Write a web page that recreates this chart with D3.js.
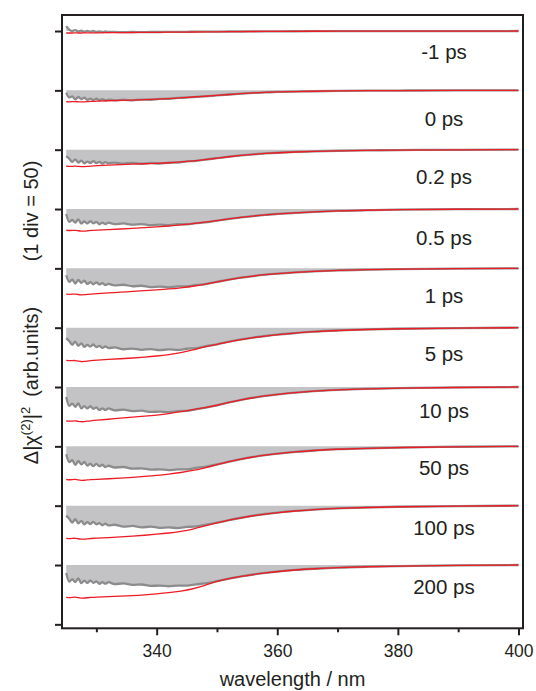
<!DOCTYPE html>
<html>
<head>
<meta charset="utf-8">
<script src="https://cdnjs.cloudflare.com/ajax/libs/d3/7.8.5/d3.min.js"></script>
<style>
  body { margin: 0; background: #fff; }
  svg { display: block; font-family: "Liberation Sans", Arial, Helvetica, sans-serif; }
</style>
</head>
<body>
<svg id="chart" width="536" height="691"></svg>
<script>
// wavelength grids (nm): measured spectra and fitted curves
const wlData = [325, 325.5, 326, 326.5, 327, 327.5, 328, 328.5, 329, 329.5, 330, 330.5, 331, 331.5, 332,
    333, 334.5, 336, 337.5, 339, 340.5, 342, 343.5, 345, 346.5, 348,
    350, 352, 354, 356, 358, 360, 363, 366, 370, 375, 380, 390, 400];
const wlFit = [325, 325.5, 326, 326.5, 327, 327.5, 328, 328.5, 329, 330, 332, 334, 336, 338, 340, 342, 344,
    346, 348, 350, 352, 354, 356, 358, 360, 363, 366, 370, 375, 380, 390, 400];

// delay times (labels)
const delayLabels = ["-1 ps", "0 ps", "0.2 ps", "0.5 ps", "1 ps", "5 ps", "10 ps", "50 ps", "100 ps", "200 ps"];

// measured Δ|χ(2)|² (arb. units), gray noisy traces
const dataM1 = [5, 1.5, 0, 1, -0.5, 0.5, -0.8, 0.2, -0.6, 0, -0.9, -0.3, -1, -0.5, -1, -0.9, -1.2, -1, -1.2, -1, -1, -0.9, -0.9, -0.8, -0.7, -0.7, -0.6, -0.5, -0.5, -0.4, -0.35, -0.3, -0.25, -0.2, -0.15, -0.1, -0.1, -0.05, 0];
const data0 = [-2.5, -7.2, -6.1, -9, -6.7, -8.8, -7.4, -9.6, -8.4, -9.8, -8.5, -9.9, -8.9, -10.2, -9.3, -10.2, -9.5, -10.1, -9.3, -9.5, -8.6, -8.5, -7.6, -7.4, -6.5, -6.1, -5.1, -4.2, -3.4, -2.6, -2.1, -1.6, -1.2, -0.9, -0.6, -0.35, -0.2, -0.05, 0];
const data02 = [-6.6, -9.2, -12.4, -9.7, -13.1, -11, -13.8, -12, -13.4, -11.6, -13.6, -12.4, -14, -12.6, -13.8, -13, -14.1, -13.3, -14.2, -13.4, -14, -13.2, -13.1, -11.8, -11.3, -10, -8.6, -7.1, -5.8, -4.7, -3.8, -3.1, -2.3, -1.7, -1.1, -0.7, -0.4, -0.1, 0];
const data05 = [-5.1, -13.1, -11, -13.7, -10.4, -14.8, -12.6, -14.6, -12.3, -14.5, -13.1, -15.4, -13.8, -15.2, -13.8, -15.3, -14.6, -15.8, -15.2, -16.3, -15.8, -16.3, -15.4, -15.4, -14.3, -13.5, -11.7, -10, -8.5, -7.1, -5.9, -5, -3.9, -2.9, -1.9, -1.2, -0.7, -0.2, 0];
const data1 = [-7, -13.6, -11.3, -15.4, -11.7, -14.7, -12.5, -15.8, -14, -16.1, -14.1, -16.3, -14.9, -16.9, -15.7, -17.2, -16.6, -18.1, -17.6, -18.9, -18.4, -19.2, -18.3, -18.3, -16.8, -15.9, -13.6, -11.4, -9.4, -7.8, -6.4, -5.3, -4, -3, -2, -1.3, -0.8, -0.3, 0];
const data5 = [-10.5, -13.5, -17.3, -14, -18.3, -15.8, -19.4, -17.3, -19.2, -17, -19.7, -18.4, -20.5, -18.9, -20.6, -20, -21.8, -21.1, -22.4, -21.6, -22.6, -22, -22.5, -21.3, -20.6, -18.9, -16.8, -14.2, -11.9, -10, -8.4, -7, -5.4, -4, -2.8, -1.8, -1.1, -0.4, 0];
const data10 = [-10, -19, -16.8, -20, -16.6, -21.6, -19.3, -21.7, -19.4, -22, -20.6, -23.2, -21.7, -23.2, -21.7, -23.6, -22.9, -24.4, -23.9, -25.2, -24.8, -25.3, -24.4, -24.1, -22.5, -21.1, -18.5, -15.6, -13, -10.8, -9, -7.4, -5.6, -4.2, -2.9, -1.9, -1.2, -0.4, 0];
const data50 = [-8, -16, -14, -18.8, -14.8, -18.2, -15.8, -19.5, -17.6, -19.9, -17.7, -20.1, -18.6, -20.9, -19.6, -21.4, -20.9, -22.6, -22.2, -23.6, -23.2, -24.1, -23.3, -23.3, -21.8, -20.8, -18.2, -15.5, -12.9, -10.7, -8.9, -7.4, -5.6, -4.2, -2.9, -1.9, -1.2, -0.4, 0];
const data100 = [-10, -13.2, -17, -13.6, -17.9, -15.3, -18.9, -16.7, -18.5, -16.3, -19, -17.7, -19.8, -18.2, -19.9, -19.3, -21.2, -20.5, -21.9, -21.2, -22.4, -22, -22.6, -21.5, -21, -19.4, -17.2, -14.6, -12.2, -10.1, -8.4, -7, -5.3, -4, -2.7, -1.8, -1.1, -0.4, 0];
const data200 = [-8, -16.8, -14.3, -17.2, -13.5, -18.3, -15.8, -18.1, -15.6, -18, -16.5, -19, -17.4, -18.9, -17.4, -19.3, -18.6, -20.1, -19.7, -21.1, -20.8, -21.5, -20.8, -20.8, -19.6, -18.6, -16.3, -13.8, -11.5, -9.6, -8, -6.6, -5, -3.8, -2.6, -1.7, -1.1, -0.4, 0];

// fitted curves (red)
const fitM1 = [-2, -2, -2, -1.9, -2, -2, -1.9, -1.9, -1.8, -1.8, -1.7, -1.6, -1.5, -1.4, -1.3, -1.2, -1.1, -1, -0.9, -0.8, -0.7, -0.6, -0.5, -0.45, -0.4, -0.3, -0.25, -0.2, -0.15, -0.1, -0.05, 0];
const fit0 = [-11.5, -11.7, -11.5, -11.3, -11.6, -11.8, -11.6, -11.4, -11.2, -10.9, -10.5, -10.2, -9.9, -9.5, -8.9, -8.3, -7.6, -6.7, -6, -5.1, -4.2, -3.4, -2.6, -2.1, -1.6, -1.2, -0.9, -0.6, -0.35, -0.2, -0.05, 0];
const fit02 = [-16.7, -17, -16.8, -16.6, -17, -17.2, -17.1, -16.9, -16.6, -16.2, -15.7, -15.2, -14.7, -14.2, -13.8, -13.3, -12.4, -11.4, -10.1, -8.6, -7.1, -5.8, -4.7, -3.8, -3.1, -2.3, -1.7, -1.1, -0.7, -0.4, -0.1, 0];
const fit05 = [-21.4, -21.8, -21.6, -21.4, -22, -22.4, -22.3, -22, -21.7, -21.3, -20.8, -20.2, -19.6, -18.9, -18.1, -17.2, -16.2, -14.8, -13.4, -11.7, -10, -8.5, -7.1, -5.9, -5, -3.9, -2.9, -1.9, -1.2, -0.7, -0.2, 0];
const fit1 = [-26, -26.3, -26.1, -25.9, -26.5, -26.8, -26.7, -26.4, -26.1, -25.6, -24.9, -24.1, -23.4, -22.6, -21.8, -20.9, -19.7, -18.2, -16.2, -13.6, -11.4, -9.4, -7.8, -6.4, -5.3, -4, -3, -2, -1.3, -0.8, -0.3, 0];
const fit5 = [-33, -33.4, -33.2, -33.1, -33.8, -34.3, -34.2, -33.8, -33.4, -32.9, -32.1, -31.4, -30.7, -29.8, -28.7, -27.3, -25.3, -22.5, -19.3, -16.8, -14.2, -11.9, -10, -8.4, -7, -5.4, -4, -2.8, -1.8, -1.1, -0.4, 0];
const fit10 = [-34.3, -34.7, -34.4, -34.1, -34.8, -35.2, -35, -34.6, -34.2, -33.6, -32.6, -31.5, -30.5, -29.5, -28.4, -27, -25, -22.8, -21, -18.5, -15.6, -13, -10.8, -9, -7.4, -5.6, -4.2, -2.9, -1.9, -1.2, -0.4, 0];
const fit50 = [-33.5, -33.9, -33.6, -33.3, -34, -34.4, -34.3, -34, -33.7, -33.4, -32.8, -32.1, -31.3, -30.4, -29.4, -28.1, -26.5, -24.5, -21.8, -18.5, -15.5, -12.9, -10.7, -8.9, -7.4, -5.6, -4.2, -2.9, -1.9, -1.2, -0.4, 0];
const fit100 = [-33, -33.4, -33.1, -32.8, -33.5, -33.9, -33.8, -33.5, -33.2, -32.9, -32.3, -31.6, -30.8, -29.9, -28.9, -27.7, -26, -23.8, -20.5, -17.2, -14.6, -12.2, -10.1, -8.4, -7, -5.3, -4, -2.7, -1.8, -1.1, -0.4, 0];
const fit200 = [-32.6, -33, -32.7, -32.4, -33.1, -33.5, -33.4, -33.1, -32.8, -32.5, -32, -31.5, -31, -30.2, -29.2, -28, -26.4, -24.2, -20.8, -16.3, -13.8, -11.5, -9.6, -8, -6.6, -5, -3.8, -2.6, -1.7, -1.1, -0.4, 0];

const measured = [dataM1, data0, data02, data05, data1, data5, data10, data50, data100, data200];
const fitted = [fitM1, fit0, fit02, fit05, fit1, fit5, fit10, fit50, fit100, fit200];

// axis ticks
const xMajorTicks = [340, 360, 380, 400];
const xMinorTicks = [330, 350, 370, 390];

const DIV = 60; //一格的偏移量
const INK = "#231f20";

let svg = d3.select("#chart");

let x = d3.scaleLinear().domain([324.3, 400.75]).range([62, 523]);
let y = d3.scaleLinear().domain([-4, 616.2]).range([628.3, 15]);

// 每条谱线的基线偏移，-1 ps 在最上面
let traces = delayLabels.map((label, i) => ({
    label: label,
    base: (delayLabels.length - i) * DIV,
    data: wlData.map((w, k) => [w, measured[i][k]]),
    fit: wlFit.map((w, k) => [w, fitted[i][k]])
}));

// label baseline offsets below each trace (px)
let labelDy = [28, 35.5, 34.5, 35.5, 34.5, 33, 31, 29, 29, 29];

let plot = svg.append("g");

traces.forEach((t, i) => {
    let g = plot.append("g").attr("class", "trace");

    //灰色填充
    let area = d3.area()
        .curve(d3.curveMonotoneX)
        .x(d => x(d[0]))
        .y0(y(t.base))
        .y1(d => y(t.base + d[1]));
    g.append("path")
        .datum(t.data)
        .attr("d", area)
        .attr("fill", "#c3c3c5")
        .attr("stroke", "none");

    //测量数据
    let line = d3.line()
        .curve(d3.curveMonotoneX)
        .x(d => x(d[0]))
        .y(d => y(t.base + d[1]));
    g.append("path")
        .datum(t.data)
        .attr("d", line)
        .attr("fill", "none")
        .attr("stroke", "#8c8c8c")
        .attr("stroke-width", 2.3)
        .attr("stroke-linejoin", "round");

    //拟合曲线
    let fitLine = d3.line()
        .curve(d3.curveBasis)
        .x(d => x(d[0]))
        .y(d => y(t.base + d[1]));
    g.append("path")
        .datum(t.fit)
        .attr("d", fitLine)
        .attr("fill", "none")
        .attr("stroke", "#ed1c24")
        .attr("stroke-width", 1.3);

    g.append("text")
        .attr("x", 444)
        .attr("y", y(t.base) + labelDy[i])
        .attr("text-anchor", "middle")
        .attr("fill", INK)
        .style("font-size", "20.5px")
        .text(t.label);
});

// y axis ticks (no labels)
let yAxis = svg.append("g")
    .attr("transform", "translate(62,0)")
    .call(d3.axisLeft(y).tickValues(d3.range(0, DIV * 10 + 1, DIV)).tickSize(7).tickFormat(""));
yAxis.select(".domain").remove();
yAxis.selectAll("line").attr("stroke", INK).attr("stroke-width", 2);

// x axis
let xAxis = svg.append("g")
    .attr("transform", "translate(0,628.3)")
    .call(d3.axisBottom(x).tickValues(xMajorTicks).tickSize(7).tickPadding(9).tickFormat(d3.format("d")));
xAxis.select(".domain").remove();
xAxis.selectAll("line").attr("stroke", INK).attr("stroke-width", 2);
xAxis.selectAll("text")
    .attr("fill", INK)
    .style("font-size", "17.5px")
    .style("font-family", "'Liberation Sans', Arial, sans-serif");

let xMinor = svg.append("g")
    .attr("transform", "translate(0,628.3)")
    .call(d3.axisBottom(x).tickValues(xMinorTicks).tickSize(4).tickFormat(""));
xMinor.select(".domain").remove();
xMinor.selectAll("line").attr("stroke", INK).attr("stroke-width", 2);

// frame
svg.append("rect")
    .attr("x", 62)
    .attr("y", 15)
    .attr("width", 461)
    .attr("height", 613.3)
    .attr("fill", "none")
    .attr("stroke", INK)
    .attr("stroke-width", 2);

// axis titles
svg.append("text")
    .attr("x", 292.5)
    .attr("y", 686)
    .attr("text-anchor", "middle")
    .attr("fill", INK)
    .style("font-size", "20px")
    .text("wavelength / nm");

let yTitle = svg.append("text")
    .attr("transform", "translate(37.5,385.5) rotate(-90)")
    .attr("text-anchor", "middle")
    .attr("fill", INK)
    .style("font-size", "20px");
yTitle.append("tspan").text("\u0394|\u03c7");
yTitle.append("tspan").attr("dy", -8).style("font-size", "13px").text("(2)");
yTitle.append("tspan").attr("dy", 8).text("|");
yTitle.append("tspan").attr("dy", -8).style("font-size", "13px").text("2");
yTitle.append("tspan").attr("dy", 8).attr("dx", 10).text("(arb.units)");

svg.append("text")
    .attr("transform", "translate(37.5,211) rotate(-90)")
    .attr("text-anchor", "middle")
    .attr("fill", INK)
    .style("font-size", "20px")
    .text("(1 div = 50)");
</script>
</body>
</html>
